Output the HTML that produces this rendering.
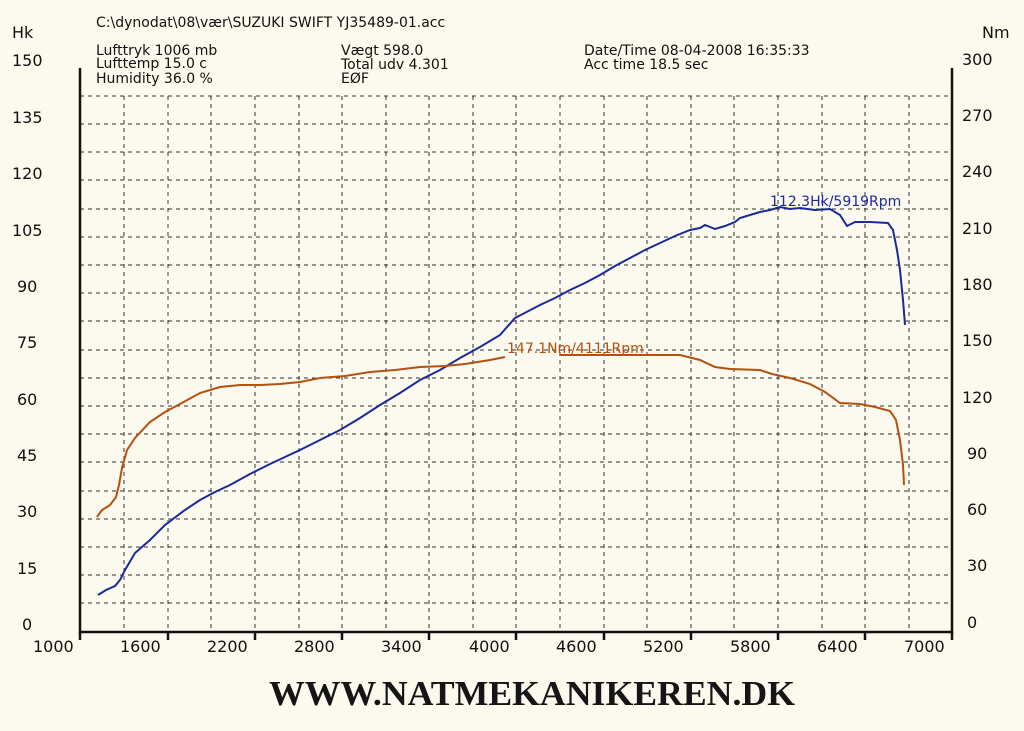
<!DOCTYPE html>
<html><head><meta charset="utf-8"><style>
html,body{margin:0;padding:0;background:#fcf9ee;}
svg{display:block;}
text{font-family:"DejaVu Sans","Liberation Sans",sans-serif;}
</style></head><body>
<svg width="1024" height="731" viewBox="0 0 1024 731" xmlns="http://www.w3.org/2000/svg">
<rect width="1024" height="731" fill="#fcf9ee"/>
<g stroke="#333" stroke-width="1" stroke-dasharray="4,4">
<line x1="80" y1="96" x2="952" y2="96"/><line x1="80" y1="124" x2="952" y2="124"/>
<line x1="80" y1="152" x2="952" y2="152"/><line x1="80" y1="180" x2="952" y2="180"/>
<line x1="80" y1="209" x2="952" y2="209"/><line x1="80" y1="237" x2="952" y2="237"/>
<line x1="80" y1="265" x2="952" y2="265"/><line x1="80" y1="293" x2="952" y2="293"/>
<line x1="80" y1="321" x2="952" y2="321"/><line x1="80" y1="350" x2="952" y2="350"/>
<line x1="80" y1="378" x2="952" y2="378"/><line x1="80" y1="406" x2="952" y2="406"/>
<line x1="80" y1="434" x2="952" y2="434"/><line x1="80" y1="462" x2="952" y2="462"/>
<line x1="80" y1="491" x2="952" y2="491"/><line x1="80" y1="519" x2="952" y2="519"/>
<line x1="80" y1="547" x2="952" y2="547"/><line x1="80" y1="575" x2="952" y2="575"/>
<line x1="80" y1="603" x2="952" y2="603"/>
<line x1="124" y1="96" x2="124" y2="632"/><line x1="168" y1="96" x2="168" y2="632"/>
<line x1="211" y1="96" x2="211" y2="632"/><line x1="255" y1="96" x2="255" y2="632"/>
<line x1="299" y1="96" x2="299" y2="632"/><line x1="342" y1="96" x2="342" y2="632"/>
<line x1="386" y1="96" x2="386" y2="632"/><line x1="429" y1="96" x2="429" y2="632"/>
<line x1="473" y1="96" x2="473" y2="632"/><line x1="516" y1="96" x2="516" y2="632"/>
<line x1="560" y1="96" x2="560" y2="632"/><line x1="604" y1="96" x2="604" y2="632"/>
<line x1="647" y1="96" x2="647" y2="632"/><line x1="691" y1="96" x2="691" y2="632"/>
<line x1="734" y1="96" x2="734" y2="632"/><line x1="778" y1="96" x2="778" y2="632"/>
<line x1="822" y1="96" x2="822" y2="632"/><line x1="865" y1="96" x2="865" y2="632"/>
<line x1="909" y1="96" x2="909" y2="632"/>
</g>
<g stroke="#111" stroke-width="2.5" fill="none">
<polyline points="80,68 80,632 952,632 952,68"/>
<line x1="168" y1="632" x2="168" y2="640"/><line x1="255" y1="632" x2="255" y2="640"/>
<line x1="342" y1="632" x2="342" y2="640"/><line x1="429" y1="632" x2="429" y2="640"/>
<line x1="516" y1="632" x2="516" y2="640"/><line x1="604" y1="632" x2="604" y2="640"/>
<line x1="691" y1="632" x2="691" y2="640"/><line x1="778" y1="632" x2="778" y2="640"/>
<line x1="865" y1="632" x2="865" y2="640"/><line x1="952" y1="632" x2="952" y2="640"/>
<line x1="80" y1="632" x2="80" y2="640"/>
</g>
<g font-size="16" fill="#111">
<text x="12" y="38">Hk</text><text x="982" y="38">Nm</text>
<text x="12" y="66">150</text><text x="12" y="123">135</text><text x="12" y="179">120</text>
<text x="12" y="236">105</text><text x="17" y="292">90</text><text x="17" y="348">75</text>
<text x="17" y="405">60</text><text x="17" y="461">45</text><text x="17" y="517">30</text>
<text x="17" y="574">15</text><text x="22" y="630">0</text>
<text x="962" y="65">300</text><text x="962" y="121">270</text><text x="962" y="177">240</text>
<text x="962" y="234">210</text><text x="962" y="290">180</text><text x="962" y="346">150</text>
<text x="962" y="403">120</text><text x="967" y="459">90</text><text x="967" y="515">60</text>
<text x="967" y="571">30</text><text x="967" y="628">0</text>
<text x="33" y="652">1000</text><text x="120" y="652">1600</text><text x="207" y="652">2200</text>
<text x="294" y="652">2800</text><text x="381" y="652">3400</text><text x="469" y="652">4000</text>
<text x="556" y="652">4600</text><text x="643" y="652">5200</text><text x="730" y="652">5800</text>
<text x="817" y="652">6400</text><text x="904" y="652">7000</text>
</g>
<g font-size="14" fill="#111">
<text x="96" y="27">C:\dynodat\08\vær\SUZUKI SWIFT YJ35489-01.acc</text>
<text x="96" y="55">Lufttryk  1006 mb</text>
<text x="96" y="68">Lufttemp  15.0 c</text>
<text x="96" y="83">Humidity  36.0 %</text>
<text x="341" y="55">Vægt    598.0</text>
<text x="341" y="69">Total udv 4.301</text>
<text x="341" y="83">EØF</text>
<text x="584" y="55">Date/Time  08-04-2008 16:35:33</text>
<text x="584" y="69">Acc time   18.5 sec</text>
</g>
<polyline fill="none" stroke="#1a2a9a" stroke-width="2" points="98,595 106,590 115,586 120,580 125,570 135,553 150,540 165,525 185,510 200,500 215,492 230,485 250,474 270,464 300,450 320,440 340,430 360,418 380,405 400,393 420,380 440,370 460,358 480,347 500,335 515,318 540,305 555,298 570,290 585,283 600,275 615,266 630,258 645,250 660,243 675,236 690,230 700,228 705,225 715,229 725,226 735,222 740,218 750,215 760,212 770,210 780,207 790,209 800,208 815,210 830,209 840,215 847,226 855,222 870,222 888,223 893,230 897,250 900,270 903,300 905,325"/>
<polyline fill="none" stroke="#b5500f" stroke-width="2" points="97,517 102,510 110,505 116,497 119,485 122,468 127,450 135,438 150,422 165,412 180,404 200,393 220,387 240,385 260,385 280,384 300,382 320,378 345,376 370,372 395,370 420,367 445,366 465,364 490,360 505,357"/>
<polyline fill="none" stroke="#b5500f" stroke-width="2" points="560,355 600,355 640,355 665,355 680,355 700,360 715,367 730,369 760,370 772,374 790,378 810,384 825,392 840,403 860,404 875,407 890,411 896,420 900,440 903,465 904,485"/>
<text x="770" y="206" font-size="14" fill="#1a2a9a">112.3Hk/5919Rpm</text>
<text x="507" y="353" font-size="14" fill="#b5500f">147.1Nm/4111Rpm</text>
<text x="532" y="705" text-anchor="middle" style="font-family:'Liberation Serif',serif;font-weight:bold;font-size:35px" fill="#151515" textLength="526" lengthAdjust="spacingAndGlyphs">WWW.NATMEKANIKEREN.DK</text>
</svg>
</body></html>
